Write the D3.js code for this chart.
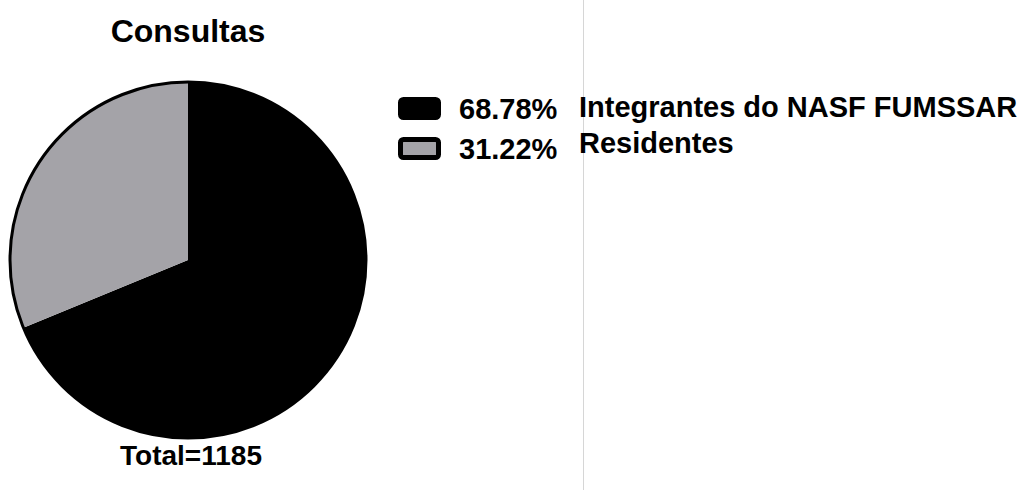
<!DOCTYPE html>
<html>
<head>
<meta charset="utf-8">
<script src="https://cdn.jsdelivr.net/npm/d3@7"></script>
<style>
  body { margin: 0; background: #fff; }
  svg { display: block; }
  text { font-family: "Liberation Sans", Arial, sans-serif; font-weight: bold; fill: #000; }
</style>
</head>
<body>
<div id="chart"></div>
<script>
var title = "Consultas";
var categories = ["Integrantes do NASF FUMSSAR", "Residentes"];
var percents = [68.78, 31.22];
var percentLabels = ["68.78%", "31.22%"];
var total = 1185;
var colors = ["#000000", "#a4a3a8"];

var width = 1023;
var height = 493;

var cx = 188, cy = 260, radius = 178;

var svg = d3.select("#chart")
    .append("svg")
    .attr("width", width)
    .attr("height", height);

// thin divider seen in the original
svg.append("line")
    .attr("x1", 583.5).attr("x2", 583.5)
    .attr("y1", 0).attr("y2", 490)
    .attr("stroke", "#d6d6d6")
    .attr("stroke-width", 1);

svg.append("text")
    .attr("x", cx)
    .attr("y", 42)
    .attr("text-anchor", "middle")
    .style("font-size", "32px")
    .text(title);

var pie = d3.pie()
    .sort(null)
    .value(d => d);

var arc = d3.arc()
    .innerRadius(0)
    .outerRadius(radius);

var g = svg.append("g")
    .attr("transform", `translate(${cx}, ${cy})`);

g.selectAll("path")
    .data(pie(percents))
    .enter().append("path")
        .attr("d", arc)
        .attr("fill", (d, i) => colors[i]);

// outer ring
g.append("circle")
    .attr("r", radius)
    .attr("fill", "none")
    .attr("stroke", "#000")
    .attr("stroke-width", 3);

svg.append("text")
    .attr("x", 191)
    .attr("y", 465)
    .attr("text-anchor", "middle")
    .style("font-size", "28px")
    .text("Total=" + total);

// legend
var legendY = [97, 137];
var textY = [119, 159];
var nameY = [117, 153];

var legend = svg.append("g");

legend.selectAll("rect")
    .data(categories)
    .enter().append("rect")
        .attr("x", 400.5)
        .attr("y", (d, i) => legendY[i] + 2.5)
        .attr("width", 38)
        .attr("height", 18)
        .attr("rx", 3)
        .attr("fill", (d, i) => colors[i])
        .attr("stroke", "#000")
        .attr("stroke-width", 5);

legend.selectAll("text.pct")
    .data(percentLabels)
    .enter().append("text")
        .attr("class", "pct")
        .attr("x", 459)
        .attr("y", (d, i) => textY[i])
        .style("font-size", "29px")
        .text(d => d);

legend.selectAll("text.name")
    .data(categories)
    .enter().append("text")
        .attr("class", "name")
        .attr("x", 579)
        .attr("y", (d, i) => nameY[i])
        .style("font-size", "29px")
        .text(d => d);
</script>
</body>
</html>
